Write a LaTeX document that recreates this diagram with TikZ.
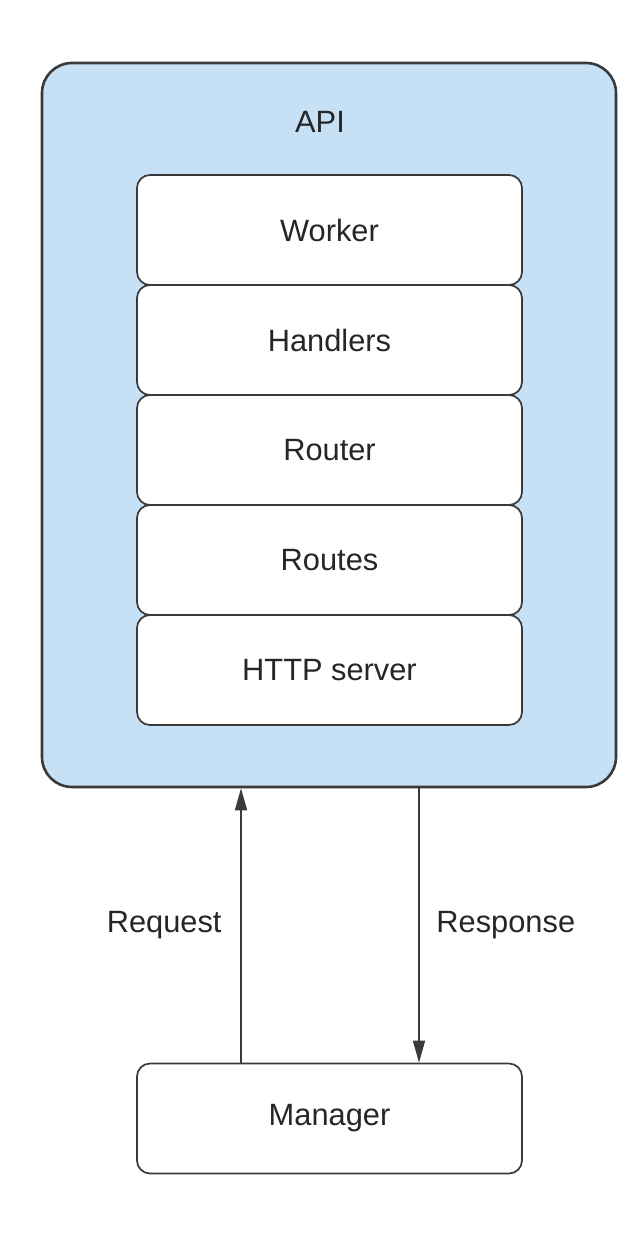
\documentclass[tikz,border=0pt]{standalone}
\usepackage{fontspec}
\setmainfont{Liberation Sans}
\usepackage{tikz}
\usetikzlibrary{arrows.meta}
\definecolor{apiblue}{HTML}{C6E0F5}
\definecolor{edge}{HTML}{3A3A3A}
\tikzstyle{apibox}=[draw=edge, line width=1.3pt, fill=apiblue, rounded corners=15pt,
                    minimum width=287pt, minimum height=362pt, inner sep=0pt]
\tikzstyle{layer}=[draw=edge, line width=0.85pt, fill=white, rounded corners=6.5pt,
                   minimum width=192.5pt, minimum height=55pt, inner sep=0pt]
\tikzstyle{lbl}=[font=\fontsize{15.4}{18}\selectfont, text=black!85]
\tikzstyle{flow}=[draw=edge, line width=0.8pt, -{Triangle[length=11pt, width=6pt]}]

\begin{document}
\begin{tikzpicture}[x=0.5pt, y=-0.5pt]
    \useasboundingbox (0,0) rectangle (641,1242);
    \node[apibox] (api) at (329,425) {};
    \node[lbl] (apit) at (320,122) {API};
    \foreach \name/\txt/\y in {wrk/Worker/231, hnd/Handlers/341, rtr/Router/451,
          rts/Routes/561, srv/HTTP server/671}
      \node[layer, lbl] (\name) at (329.5,\y-1) {\txt};
    \node[layer, lbl] (mgr) at (329.5,1118.5) {Manager};
    \coordinate (rq) at (241,0);
    \coordinate (rs) at (419,0);
    \draw[flow] (rq |- mgr.north) -- node[lbl, midway, left=6pt] (reqt) {Request}
      (rq |- api.south);
    \draw[flow] (rs |- api.south) -- node[lbl, midway, right=5pt] (rest) {Response}
      (rs |- mgr.north);
    \end{tikzpicture}
\end{document}
